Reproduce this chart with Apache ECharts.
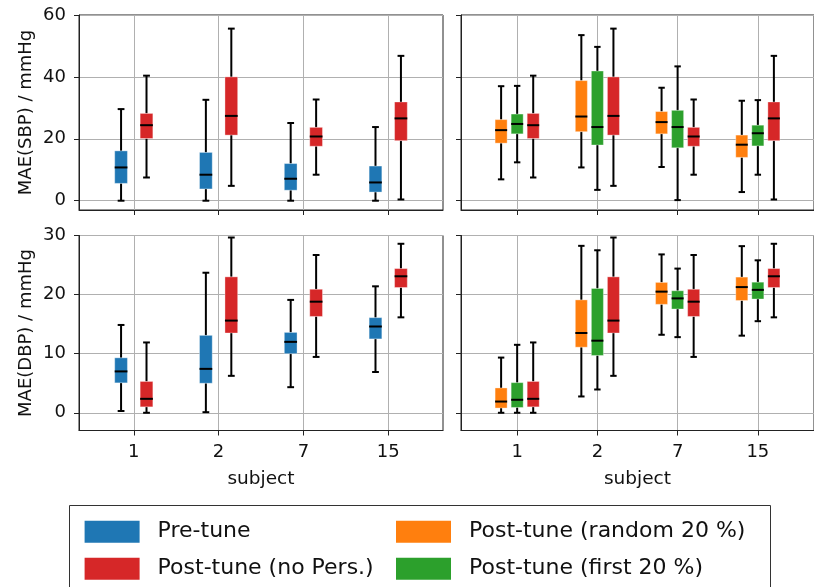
<!DOCTYPE html>
<html><head><meta charset="utf-8">
<script src="https://cdn.jsdelivr.net/npm/echarts@6/dist/echarts.min.js"></script>
<style>html,body{margin:0;padding:0;background:#fff}#c{width:814px;height:587px}</style>
</head><body><div id="c"></div>
<script>
const subjects = ['1', '2', '7', '15'];
// each entry: [low whisker, q1, median, q3, high whisker]
const sbpPre     = [[0, 5.6, 10.75, 16.1, 29.6], [0, 3.8, 8.4, 15.6, 32.6], [0, 3.4, 7.1, 12.0, 25.1], [0, 2.8, 5.9, 11.2, 23.8]];
const sbpNoPers  = [[7.5, 20.1, 24.4, 28.2, 40.4], [4.8, 21.2, 27.4, 40.0, 55.6], [8.4, 17.6, 20.75, 23.7, 32.7], [0.4, 19.4, 26.6, 31.9, 46.8]];
const sbpRandom  = [[6.9, 18.6, 22.8, 26.2, 37.0], [10.75, 22.3, 27.2, 38.8, 53.5], [10.9, 21.6, 25.4, 28.8, 36.5], [2.8, 14.0, 18.1, 21.2, 32.3]];
const sbpFirst   = [[12.4, 21.6, 24.8, 28.0, 37.1], [3.5, 18.0, 23.8, 41.9, 49.7], [0.2, 17.1, 23.8, 29.2, 43.4], [8.4, 17.7, 21.8, 24.4, 32.5]];
const dbpPre     = [[0.3, 5.06, 7.0, 9.3, 14.86], [0.1, 5.0, 7.43, 13.1, 23.7], [4.33, 10.0, 12.0, 13.6, 19.1], [6.9, 12.5, 14.6, 16.1, 21.4]];
const dbpNoPers  = [[0, 1.0, 2.36, 5.3, 11.9], [6.25, 13.5, 15.6, 23.0, 29.66], [9.45, 16.3, 18.8, 20.9, 26.7], [16.15, 21.2, 23.1, 24.4, 28.6]];
const dbpRandom  = [[0, 0.8, 1.9, 4.2, 9.34], [2.76, 11.1, 13.5, 19.1, 28.25], [13.2, 18.35, 20.5, 22.06, 26.8], [13.05, 19.0, 21.27, 22.96, 28.2]];
const dbpFirst   = [[0, 0.9, 2.2, 5.1, 11.5], [3.94, 9.7, 12.2, 21.05, 27.5], [12.8, 17.56, 19.36, 20.65, 24.4], [15.5, 19.25, 20.8, 22.1, 25.8]];
const sbpTicks = [0, 20, 40, 60];
const dbpTicks = [0, 10, 20, 30];
const names = ['Pre-tune', 'Post-tune (no Pers.)', 'Post-tune (random 20 %)', 'Post-tune (first 20 %)'];
const colors = {'Pre-tune': '#1f77b4', 'Post-tune (no Pers.)': '#d62728', 'Post-tune (random 20 %)': '#ff7f0e', 'Post-tune (first 20 %)': '#2ca02c'};

const BOX_W = 0.15, CAP_W = 0.08;
const FONT = 'DejaVu Sans';
const INK = '#111';

function boxSeries(name, stats, offset, gi) {
  return {
    type: 'custom', name: name, xAxisIndex: gi, yAxisIndex: gi,
    itemStyle: {color: colors[name]},
    encode: {x: 0, y: [1, 2, 3, 4, 5]},
    data: stats.map((s, i) => [i + 1 + offset].concat(s)),
    renderItem: function (params, api) {
      const x = api.value(0);
      const low = api.value(1), q1 = api.value(2), med = api.value(3), q3 = api.value(4), high = api.value(5);
      const hw = BOX_W / 2, cw = CAP_W / 2;
      const p = (xx, yy) => api.coord([xx, yy]);
      const ln = (a, b, w) => ({type: 'line', shape: {x1: a[0], y1: a[1], x2: b[0], y2: b[1]}, style: {stroke: '#000', lineWidth: w}});
      const tl = p(x - hw, q3), br = p(x + hw, q1);
      return {type: 'group', children: [
        ln(p(x, low), p(x, q1), 2),
        ln(p(x, q3), p(x, high), 2),
        ln(p(x - cw, low), p(x + cw, low), 2),
        ln(p(x - cw, high), p(x + cw, high), 2),
        {type: 'rect', shape: {x: tl[0], y: tl[1], width: br[0] - tl[0], height: br[1] - tl[1]},
         style: {fill: colors[name], stroke: 'rgba(255,255,255,0.35)', lineWidth: 1}},
        ln(p(x - hw, med), p(x + hw, med), 2)
      ]};
    }
  };
}

const grids = [
  {left: 79, top: 15, width: 364, height: 195},
  {left: 461, top: 15, width: 364, height: 195},
  {left: 79, top: 235.5, width: 364, height: 195},
  {left: 461, top: 235.5, width: 364, height: 195}
].map(g => Object.assign(g, {show: true, borderColor: '#222', borderWidth: 1, containLabel: false}));

function xAxis(gi, min, max, bottom) {
  return {
    type: 'value', gridIndex: gi, min: min, max: max,
    name: bottom ? 'subject' : '', nameLocation: 'middle', nameGap: 39,
    nameTextStyle: {fontFamily: FONT, fontSize: 18.5, color: INK},
    axisLine: {show: true, onZero: false, lineStyle: {color: '#222', width: 1}},
    axisTick: {show: true, length: 5, customValues: [1, 2, 3, 4], lineStyle: {color: '#222', width: 1}},
    axisLabel: {show: bottom, customValues: [1, 2, 3, 4], margin: 13, fontFamily: FONT, fontSize: 18, color: INK,
      formatter: v => subjects[Math.round(v) - 1] || ''},
    splitLine: {show: true, lineStyle: {color: '#b0b0b0', width: 1}}
  };
}
function yAxis(gi, max, ticks, label, nm) {
  return {
    type: 'value', gridIndex: gi, min: -3, max: max,
    name: nm, nameLocation: 'middle', nameGap: 44, nameRotate: 90,
    nameTextStyle: {fontFamily: FONT, fontSize: 18, color: INK},
    axisLine: {show: true, lineStyle: {color: '#222', width: 1}},
    axisTick: {show: true, length: 5, customValues: ticks, lineStyle: {color: '#222', width: 1}},
    axisLabel: {show: label, customValues: ticks, margin: 13, fontFamily: FONT, fontSize: 18, color: INK},
    splitLine: {show: true, lineStyle: {color: '#b0b0b0', width: 1}}
  };
}

const legendBase = {orient: 'vertical', top: 520.7, padding: 0, itemWidth: 55, itemHeight: 22, itemGap: 15,
  icon: 'rect', selectedMode: false,
  textStyle: {fontFamily: FONT, fontSize: 22, lineHeight: 22, color: INK, padding: [0, 0, 0, 13]}};

const option = {
  animation: false,
  backgroundColor: '#fff',
  grid: grids,
  xAxis: [xAxis(0, 0.354, 4.646, false), xAxis(1, 0.3, 4.7, false), xAxis(2, 0.354, 4.646, true), xAxis(3, 0.3, 4.7, true)],
  yAxis: [yAxis(0, 60, sbpTicks, true, 'MAE(SBP) / mmHg'), yAxis(1, 60, sbpTicks, false, ''),
          yAxis(2, 30, dbpTicks, true, 'MAE(DBP) / mmHg'), yAxis(3, 30, dbpTicks, false, '')],
  legend: [
    Object.assign({}, legendBase, {data: [names[0], names[1]], left: 84.6}),
    Object.assign({}, legendBase, {data: [names[2], names[3]], left: 396})
  ],
  graphic: [{type: 'rect', shape: {x: 69.5, y: 505.5, width: 701, height: 120}, style: {fill: 'none', stroke: '#333', lineWidth: 1}}],
  series: [
    boxSeries(names[0], sbpPre, -0.15, 0),
    boxSeries(names[1], sbpNoPers, 0.15, 0),
    boxSeries(names[2], sbpRandom, -0.2, 1),
    boxSeries(names[3], sbpFirst, 0, 1),
    boxSeries(names[1], sbpNoPers, 0.2, 1),
    boxSeries(names[0], dbpPre, -0.15, 2),
    boxSeries(names[1], dbpNoPers, 0.15, 2),
    boxSeries(names[2], dbpRandom, -0.2, 3),
    boxSeries(names[3], dbpFirst, 0, 3),
    boxSeries(names[1], dbpNoPers, 0.2, 3)
  ]
};
echarts.init(document.getElementById('c'), null, {renderer: 'canvas'}).setOption(option);
</script>
</body></html>
